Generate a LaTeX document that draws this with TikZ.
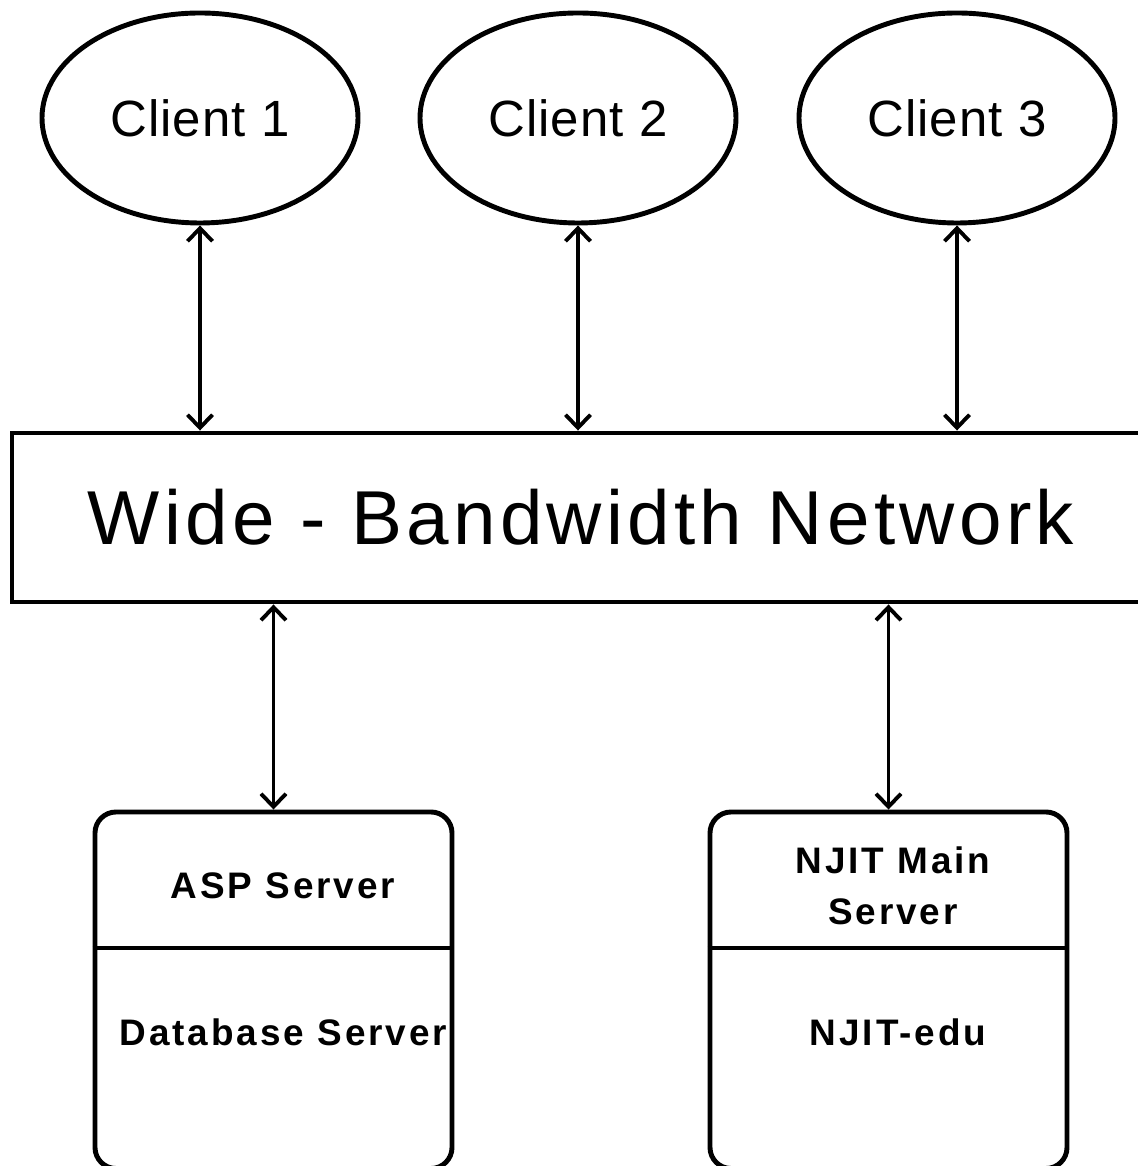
\documentclass[tikz,border=0pt]{standalone}
\usepackage{fontspec}
\setmainfont{Liberation Sans}
\newfontfamily\clientfont[LetterSpace=2]{Liberation Sans}
\newfontfamily\netfont[LetterSpace=5.6]{Liberation Sans}
\newfontfamily\srvfont[LetterSpace=8]{Liberation Sans}
\usetikzlibrary{arrows.meta, shapes.geometric}

\tikzset{
    client/.style={draw, ellipse, line width=2.8pt, inner sep=0pt,
        minimum width=6.32cm, minimum height=4.2cm,
        font=\clientfont\fontsize{29}{34}\selectfont},
    netbox/.style={draw, rectangle, line width=2.8pt, inner sep=0pt,
        minimum width=22.76cm, minimum height=3.38cm,
        font=\netfont\fontsize{43.5}{50}\selectfont},
    server/.style={draw, rectangle, rounded corners=0.42cm, line width=2.8pt,
        minimum width=7.14cm, minimum height=7.13cm},
    srvtext/.style={align=center, inner sep=0pt,
        font=\srvfont\bfseries\fontsize{21}{29}\selectfont},
    link/.style={line width=2.2pt, {Straight Barb[length=0.26cm,width=0.5cm]}-{Straight Barb[length=0.26cm,width=0.5cm]}}
}

\begin{document}
\begin{tikzpicture}
            \useasboundingbox (0,0) rectangle (22.76,23.32);
            \clip (0,0) rectangle (22.76,23.32);

            % clients
            \node[client] (c1) at (4.0,20.96) {Client 1};
            \node[client] (c2) at (11.56,20.96) {Client 2};
            \node[client] (c3) at (19.14,20.96) {Client 3};

            % network
            \node[netbox] (net) at (11.62,12.97) {Wide - Bandwidth Network};

            % servers
            \node[server] (asp) at (5.47,3.515) {};
            \node[server] (njit) at (17.77,3.515) {};
            \draw[line width=2.8pt] (asp.west |- 0,4.36) -- (asp.east |- 0,4.36);
            \draw[line width=2.8pt] (njit.west |- 0,4.36) -- (njit.east |- 0,4.36);

            \node[srvtext] (asptop) at (5.66,5.6) {ASP Server};
            \node[srvtext] (aspdb) at (5.67,2.68) {Database Server};
            \node[srvtext] (njittop) at (17.86,5.6) {NJIT Main\\Server};
            \node[srvtext] (njitedu) at (17.96,2.68) {NJIT-edu};

            % links
            \draw[link] (c1.south) -- (c1.south |- net.north);
            \draw[link] (c2.south) -- (c2.south |- net.north);
            \draw[link] (c3.south) -- (c3.south |- net.north);
            \draw[link] (net.south -| asp.north) -- (asp.north);
            \draw[link] (net.south -| njit.north) -- (njit.north);
        \end{tikzpicture}
\end{document}
